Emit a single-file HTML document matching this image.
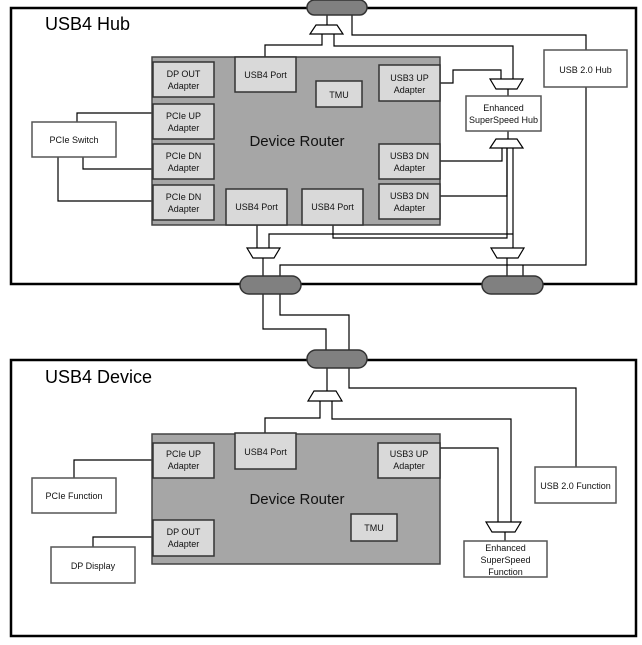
<!DOCTYPE html>
<html><head><meta charset="utf-8"><style>
html,body{margin:0;padding:0;background:#fff;}
svg text{font-family:"Liberation Sans",sans-serif;}
</style></head><body>
<svg width="642" height="640" viewBox="0 0 642 640" xmlns="http://www.w3.org/2000/svg">
<g fill="none" stroke="#000">
<rect x="11" y="8" width="625" height="276" stroke-width="2.5"/>
<rect x="11" y="360" width="625" height="276" stroke-width="2.5"/>
</g>
<text x="45" y="30" font-size="18">USB4 Hub</text>
<text x="45" y="383" font-size="18">USB4 Device</text>
<!-- connectors -->
<g fill="none" stroke="#000" stroke-width="1.2">
<!-- hub top -->
<polyline points="327,14 327,25"/>
<polyline points="322,34 322,45 265,45 265,57"/>
<polyline points="334,34 334,46 513,46 513,79"/>
<polyline points="352,14 352,35 586,35 586,50"/>
<polyline points="586,87 586,265 280,265 280,277"/>
<polyline points="523,265 523,277"/>
<polyline points="440,83 453,83 453,70 501,70 501,79"/>
<polyline points="508,89 508,96"/>
<polyline points="508,131 508,139"/>
<polyline points="440,161 502,161 502,148"/>
<polyline points="440,196 507,196 507,148"/>
<polyline points="513,148 513,248"/>
<polyline points="507,148 507,238 333,238 333,225"/>
<polyline points="269,248 269,234 513,234"/>
<polyline points="257,225 257,248"/>
<polyline points="263,258 263,277"/>
<polyline points="507,258 507,277"/>
<polyline points="153,113 77,113 77,122"/>
<polyline points="83,157 83,169 153,169"/>
<polyline points="58,157 58,201 153,201"/>
<!-- between -->
<polyline points="263,294 263,329 326,329 326,351"/>
<polyline points="280,294 280,315 349,315 349,351"/>
<!-- device -->
<polyline points="327,367 327,391"/>
<polyline points="349,367 349,388 576,388 576,467"/>
<polyline points="320,401 320,418 265,418 265,433"/>
<polyline points="332,401 332,419 511,419 511,522"/>
<polyline points="440,448 498,448 498,522"/>
<polyline points="505,532 505,541"/>
<polyline points="153,460 74,460 74,478"/>
<polyline points="153,537 93,537 93,547"/>
</g>
<!-- muxes -->
<g fill="#fff" stroke="#000" stroke-width="1.2">
<polygon points="316,25 337,25 343,34 310,34"/>
<polygon points="490,79 523,79 517,89 496,89"/>
<polygon points="496,139 517,139 523,148 490,148"/>
<polygon points="247,248 280,248 274,258 253,258"/>
<polygon points="491,248 524,248 518,258 497,258"/>
<polygon points="314,391 336,391 342,401 308,401"/>
<polygon points="486,522 521,522 515,532 492,532"/>
</g>
<!-- pills -->
<g fill="#808080" stroke="#333" stroke-width="1.5">
<rect x="307" y="0" width="60" height="15" rx="7.5"/>
<rect x="240" y="276" width="61" height="18" rx="9"/>
<rect x="482" y="276" width="61" height="18" rx="9"/>
<rect x="307" y="350" width="60" height="18" rx="9"/>
</g>
<!-- routers -->
<g stroke="#444" stroke-width="1.5">
<rect x="152" y="57" width="288" height="168" fill="#a6a6a6"/>
<rect x="152" y="434" width="288" height="130" fill="#a6a6a6"/>
</g>
<g fill="#d9d9d9" stroke="#333" stroke-width="1.5">
<rect x="153" y="62" width="61" height="35"/>
<rect x="153" y="104" width="61" height="35"/>
<rect x="153" y="144" width="61" height="35"/>
<rect x="153" y="185" width="61" height="35"/>
<rect x="235" y="57" width="61" height="35"/>
<rect x="316" y="81" width="46" height="26"/>
<rect x="379" y="65" width="61" height="36"/>
<rect x="379" y="144" width="61" height="35"/>
<rect x="379" y="184" width="61" height="35"/>
<rect x="226" y="189" width="61" height="36"/>
<rect x="302" y="189" width="61" height="36"/>
<rect x="153" y="443" width="61" height="35"/>
<rect x="235" y="433" width="61" height="36"/>
<rect x="378" y="443" width="62" height="35"/>
<rect x="153" y="520" width="61" height="36"/>
<rect x="351" y="514" width="46" height="27"/>
</g>
<g fill="#fff" stroke="#555" stroke-width="1.5">
<rect x="466" y="96" width="75" height="35"/>
<rect x="544" y="50" width="83" height="37"/>
<rect x="32" y="122" width="84" height="35"/>
<rect x="535" y="467" width="81" height="36"/>
<rect x="464" y="541" width="83" height="36"/>
<rect x="32" y="478" width="84" height="35"/>
<rect x="51" y="547" width="84" height="36"/>
</g>
<g font-size="9" text-anchor="middle" fill="#111">
<text x="183.5" y="77">DP OUT</text><text x="183.5" y="89">Adapter</text>
<text x="183.5" y="119">PCIe UP</text><text x="183.5" y="131">Adapter</text>
<text x="183.5" y="159">PCIe DN</text><text x="183.5" y="171">Adapter</text>
<text x="183.5" y="200">PCIe DN</text><text x="183.5" y="212">Adapter</text>
<text x="265.5" y="78">USB4 Port</text>
<text x="339" y="98">TMU</text>
<text x="409.5" y="81">USB3 UP</text><text x="409.5" y="93">Adapter</text>
<text x="409.5" y="159">USB3 DN</text><text x="409.5" y="171">Adapter</text>
<text x="409.5" y="199">USB3 DN</text><text x="409.5" y="211">Adapter</text>
<text x="256.5" y="210">USB4 Port</text>
<text x="332.5" y="210">USB4 Port</text>
<text x="503.5" y="111">Enhanced</text><text x="503.5" y="123">SuperSpeed Hub</text>
<text x="585.5" y="73">USB 2.0 Hub</text>
<text x="74" y="143">PCIe Switch</text>
<text x="183.5" y="457">PCIe UP</text><text x="183.5" y="469">Adapter</text>
<text x="265.5" y="455">USB4 Port</text>
<text x="409" y="457">USB3 UP</text><text x="409" y="469">Adapter</text>
<text x="183.5" y="535">DP OUT</text><text x="183.5" y="547">Adapter</text>
<text x="374" y="531">TMU</text>
<text x="575.5" y="489">USB 2.0 Function</text>
<text x="505.5" y="551">Enhanced</text><text x="505.5" y="563">SuperSpeed</text><text x="505.5" y="575">Function</text>
<text x="74" y="499">PCIe Function</text>
<text x="93" y="569">DP Display</text>
</g>
<g font-size="15" text-anchor="middle" fill="#111">
<text x="297" y="146">Device Router</text>
<text x="297" y="504">Device Router</text>
</g>
</svg>
</body></html>
